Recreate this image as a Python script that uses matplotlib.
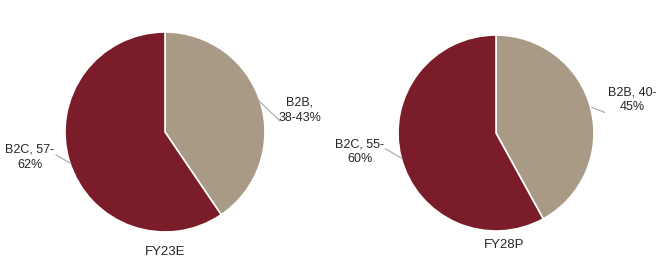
import matplotlib
matplotlib.use("Agg")
import matplotlib.pyplot as plt

plt.rcParams['font.family'] = ['Liberation Sans', 'DejaVu Sans']

segments = ["B2B", "B2C"]
fy23_values = [40.5, 59.5]
fy28_values = [42.0, 58.0]
fy23_labels = ["B2B,\n38-43%", "B2C, 57-\n62%"]
fy28_labels = ["B2B, 40-\n45%", "B2C, 55-\n60%"]
titles = ["FY23E", "FY28P"]

colors = ["#A89A85", "#7A1C29"]
W, H = 670, 278
fig = plt.figure(figsize=(W / 100, H / 100), dpi=100)


def make_ax(cx, cy, r):
    ax = fig.add_axes([(cx - r) / W, (H - cy - r) / H, 2 * r / W, 2 * r / H])
    ax.set_xlim(-1, 1)
    ax.set_ylim(-1, 1)
    ax.axis('off')
    return ax


def draw(ax, values, labels, label_specs):
    ax.pie(values, colors=colors, startangle=90, counterclock=False, radius=1,
           wedgeprops=dict(edgecolor='white', linewidth=1.2))
    ax.set_xlim(-1, 1)
    ax.set_ylim(-1, 1)
    for lab, (txt_xy, p0, p1) in zip(labels, label_specs):
        ax.plot([p0[0], p1[0]], [p0[1], p1[1]], color='#A6A6A6', lw=0.8,
                clip_on=False)
        ax.text(txt_xy[0], txt_xy[1], lab, ha='center', va='center',
                fontsize=9, color='#262626', linespacing=1.35, clip_on=False)


ax1 = make_ax(165, 132, 100)
draw(ax1, fy23_values, fy23_labels,
     [((1.35, 0.22), (1.15, 0.11), (0.94, 0.31)),
      ((-1.35, -0.25), (-1.09, -0.23), (-0.95, -0.31))])

ax2 = make_ax(496, 133, 98)
draw(ax2, fy28_values, fy28_labels,
     [((1.39, 0.34), (1.11, 0.21), (0.98, 0.26)),
      ((-1.39, -0.19), (-1.13, -0.16), (-0.96, -0.26))])

fig.text(165 / W, 1 - 252 / H, titles[0], ha='center', va='center',
         fontsize=9.5, color='#262626')
fig.text(504 / W, 1 - 245 / H, titles[1], ha='center', va='center',
         fontsize=9.5, color='#262626')

fig.savefig("out.png", dpi=100)
